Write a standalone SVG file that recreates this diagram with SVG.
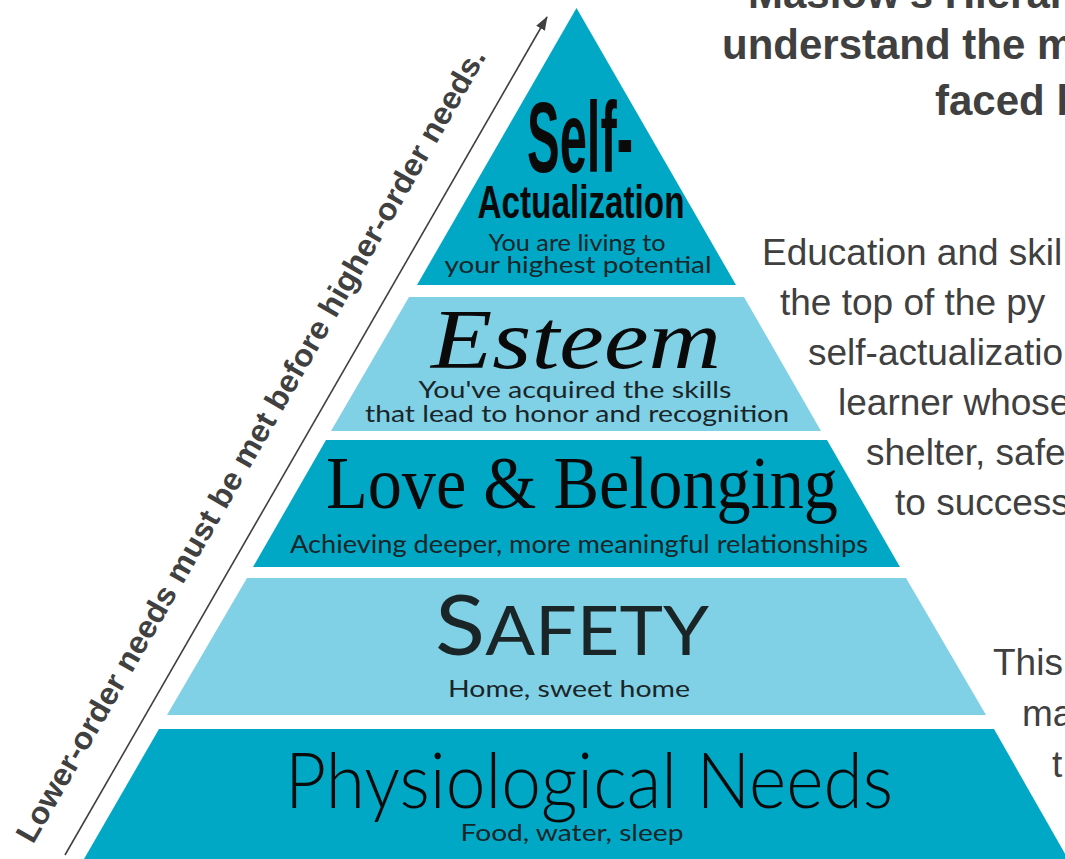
<svg xmlns="http://www.w3.org/2000/svg" width="1065" height="859" viewBox="0 0 1065 859">
<defs>
<marker id="ah" markerWidth="14" markerHeight="10" refX="13" refY="5" orient="auto" markerUnits="userSpaceOnUse"><path d="M0,0 L14,5 L0,10 z" fill="#404040"/></marker>
<style>
.dark{fill:#00A8C6}
.light{fill:#80D0E6}
.note{font-family:"Liberation Sans",Arial,sans-serif;fill:#404040;font-size:37px}
.title{font-family:"Liberation Sans",Arial,sans-serif;font-weight:bold;fill:#404040;font-size:42px}
.cond{font-family:"Liberation Sans",Arial,sans-serif;font-weight:bold;fill:#0a0a0a;text-anchor:middle}
.sub{font-family:Lato,"Liberation Sans",sans-serif;fill:#1a2528;text-anchor:middle}
.serif{font-family:"Liberation Serif","Times New Roman",serif;fill:#0a0a0a;text-anchor:middle}
.geo{font-family:Lato,"Liberation Sans",sans-serif;font-weight:300;fill:#0a0a0a;text-anchor:middle}
</style>
</defs>
<rect width="1065" height="859" fill="#ffffff"/>

<g id="connectors">
<line x1="65" y1="855" x2="547" y2="17" stroke="#404040" stroke-width="1.6" marker-end="url(#ah)"/>
<text transform="translate(33,845) rotate(-60.09)" x="0" y="0" font-family="'Liberation Sans',Arial,sans-serif" font-weight="bold" font-size="31" fill="#404040" textLength="910" lengthAdjust="spacingAndGlyphs">Lower-order needs must be met before higher-order needs.</text>
</g>

<g id="title">
<text class="title" x="748" y="8">Maslow's Hierar</text>
<text class="title" x="722" y="59">understand the m</text>
<text class="title" x="935" y="115">faced b</text>
</g>

<g id="note-top">
<text class="note" x="762" y="265">Education and skil</text>
<text class="note" x="780" y="315">the top of the py</text>
<text class="note" x="808" y="365">self-actualizatio</text>
<text class="note" x="838" y="415">learner whose</text>
<text class="note" x="866" y="465">shelter, safe</text>
<text class="note" x="895" y="515">to success</text>
</g>

<g id="note-bottom">
<text class="note" x="993" y="675">This</text>
<text class="note" x="1022" y="726">ma</text>
<text class="note" x="1052" y="777">t</text>
</g>

<g id="self-actualization">
<polygon class="dark" points="576.5,8 736,285 417,285"/>
<text class="cond" x="580" y="172" font-size="100" textLength="106" lengthAdjust="spacingAndGlyphs">Self-</text>
<text class="cond" x="581" y="218" font-size="47" textLength="207" lengthAdjust="spacingAndGlyphs">Actualization</text>
<text class="sub" x="577" y="251" font-size="23" textLength="177" lengthAdjust="spacingAndGlyphs">You are living to</text>
<text class="sub" x="578" y="273" font-size="23" textLength="267" lengthAdjust="spacingAndGlyphs">your highest potential</text>
</g>

<g id="esteem">
<polygon class="light" points="409,297 744,297 821,431 331,431"/>
<text class="serif" x="576" y="368" font-size="84" font-style="italic" textLength="290" lengthAdjust="spacingAndGlyphs">Esteem</text>
<text class="sub" x="575" y="398" font-size="24" textLength="313" lengthAdjust="spacingAndGlyphs">You've acquired the skills</text>
<text class="sub" x="577" y="422" font-size="24" textLength="424" lengthAdjust="spacingAndGlyphs">that lead to honor and recognition</text>
</g>

<g id="love-belonging">
<polygon class="dark" points="326,440 827,440 900,567 253,567"/>
<text class="serif" x="582" y="508" font-size="73" textLength="512" lengthAdjust="spacingAndGlyphs">Love &amp; Belonging</text>
<text class="sub" x="579" y="553" font-size="25" textLength="578" lengthAdjust="spacingAndGlyphs">Achieving deeper, more meaningful relationships</text>
</g>

<g id="safety">
<polygon class="light" points="247,578 906,578 986,715 167,715"/>
<text class="sub" x="572" y="655" textLength="274" lengthAdjust="spacingAndGlyphs" font-size="67"><tspan font-size="84">S</tspan>AFETY</text>
<text class="sub" x="569" y="697" font-size="24" textLength="242" lengthAdjust="spacingAndGlyphs">Home, sweet home</text>
</g>

<g id="physiological">
<polygon class="dark" points="159,729 994,729 1068,859 84,859"/>
<text class="geo" x="589" y="808" font-size="77" textLength="608" lengthAdjust="spacingAndGlyphs">Physiological Needs</text>
<text class="sub" x="572" y="841" font-size="23" textLength="223" lengthAdjust="spacingAndGlyphs">Food, water, sleep</text>
</g>
</svg>
